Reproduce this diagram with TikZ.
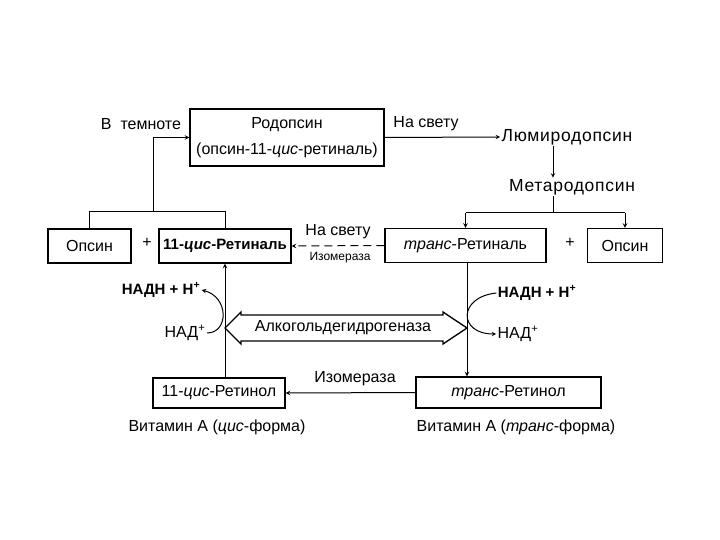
\documentclass[tikz,border=0pt]{standalone}
\usepackage{fontspec}
\setmainfont{Liberation Sans}
\usetikzlibrary{calc}
\tikzset{>=stealth}
\tikzset{box/.style={draw,line width=1.4pt,minimum height=34pt,inner sep=0pt},
  lbl/.style={inner sep=1pt},
  small/.style={font=\fontsize{12}{14}\selectfont},
  wide/.style={font=\fontsize{17.5}{20}\selectfont\addfontfeature{LetterSpace=4}},
  heavy/.style={font=\fontsize{15}{18}\selectfont\bfseries}}

\begin{document}
\begin{tikzpicture}[x=1pt,y=-1pt,line width=1pt,font=\fontsize{16}{19}\selectfont]
\useasboundingbox (0,0) rectangle (720,540);
% rhodopsin cycle, top
\node[box,minimum width=194pt,minimum height=57pt,align=center] (rhod) at (287,137.5) {Родопсин\\[7pt](опсин-11-\textit{цис}-ретиналь)};
\node[lbl] (dark) at (141,124) {В\ \ темноте};
\node[lbl] (light) at (426,124) {На свету};
\node[lbl,wide] (lumi) at (567,137) {Люмиродопсин};
\node[lbl,wide] (meta) at (572,187) {Метародопсин};
% retinal row
\node[box,minimum width=83pt] (opsL) at (89.5,246) {Опсин};
\node[lbl] (plusL) at (147,243) {+};
\node[box,minimum width=132pt,heavy] (cisRal) at (225,246) {11-\textit{цис}-Ретиналь};
\node[box,minimum width=161pt] (transRal) at (465.5,245.5) {\textit{транс}-Ретиналь};
\node[lbl] (plusR) at (570,243) {+};
\node[box,minimum width=75pt] (opsR) at (625,245.5) {Опсин};
\node[lbl] (light2) at (338,232) {На свету};
\node[lbl,small] (iso1) at (340,258) {Изомераза};
% retinol row
\node[box,minimum width=132pt,minimum height=30pt] (cisRol) at (219,393) {11-\textit{цис}-Ретинол};
\node[box,minimum width=185pt,minimum height=31pt] (transRol) at (508.5,392.5) {\textit{транс}-Ретинол};
\node[lbl] (iso2) at (355,379) {Изомераза};
\node[lbl] (vitL) at (217,427) {Витамин А (\textit{цис}-форма)};
\node[lbl] (vitR) at (516,427) {Витамин А (\textit{транс}-форма)};
% NAD
\node[lbl,heavy] (nadhL) at (161,290) {НАДН + Н\textsuperscript{+}};
\node[lbl] (nadL) at (185,333) {НАД\textsuperscript{+}};
\node[lbl,heavy] (nadhR) at (537,293) {НАДН + Н\textsuperscript{+}};
\node[lbl] (nadR) at (518,334) {НАД\textsuperscript{+}};
% alcohol dehydrogenase
\coordinate (adhL) at (225,328);
\coordinate (adhR) at (467,328);
\draw[line width=1.3pt] (adhL) -- ++(16,-16) -- ++(0,3) -- (443,315) -- ++(0,-3) -- (adhR)
  -- (443,344) -- ++(0,-3) -- (241,341) -- ++(0,3) -- cycle;
\node[lbl] (adh) at (343,328) {Алкогольдегидрогеназа};
% connectors
\draw[->] (rhod.east) -- (lumi.west);
\coordinate (mj) at (553,213);
\draw[->] (mj |- lumi.south) -- (mj |- meta.north);
\draw (mj |- meta.south) -- (mj);
\draw[->] (transRal.north |- mj) -- (transRal.north);
\draw[->] (opsR.north |- mj) -- (opsR.north);
\draw (transRal.north |- mj) -- (opsR.north |- mj);
\coordinate (lj) at (153,212);
\draw (opsL.north) -- (opsL.north |- lj) -- (cisRal.north |- lj) -- (cisRal.north);
\draw[->] (lj) |- (rhod.west);
\draw[->,dash pattern=on 8pt off 5pt] (transRal.west) -- (cisRal.east);
\draw[->] (adhL |- cisRol.north) -- (adhL |- cisRal.south);
\draw[->] (adhR |- transRal.south) -- (adhR |- transRol.north);
\draw[->] (transRol.west) -- (cisRol.east);
\draw[->] (nadL.east) .. controls (229,333) and (229,297) .. (nadhL.east);
\draw[->] (nadhR.west) .. controls (458,297) and (458,334) .. (nadR.west);
\end{tikzpicture}
\end{document}
